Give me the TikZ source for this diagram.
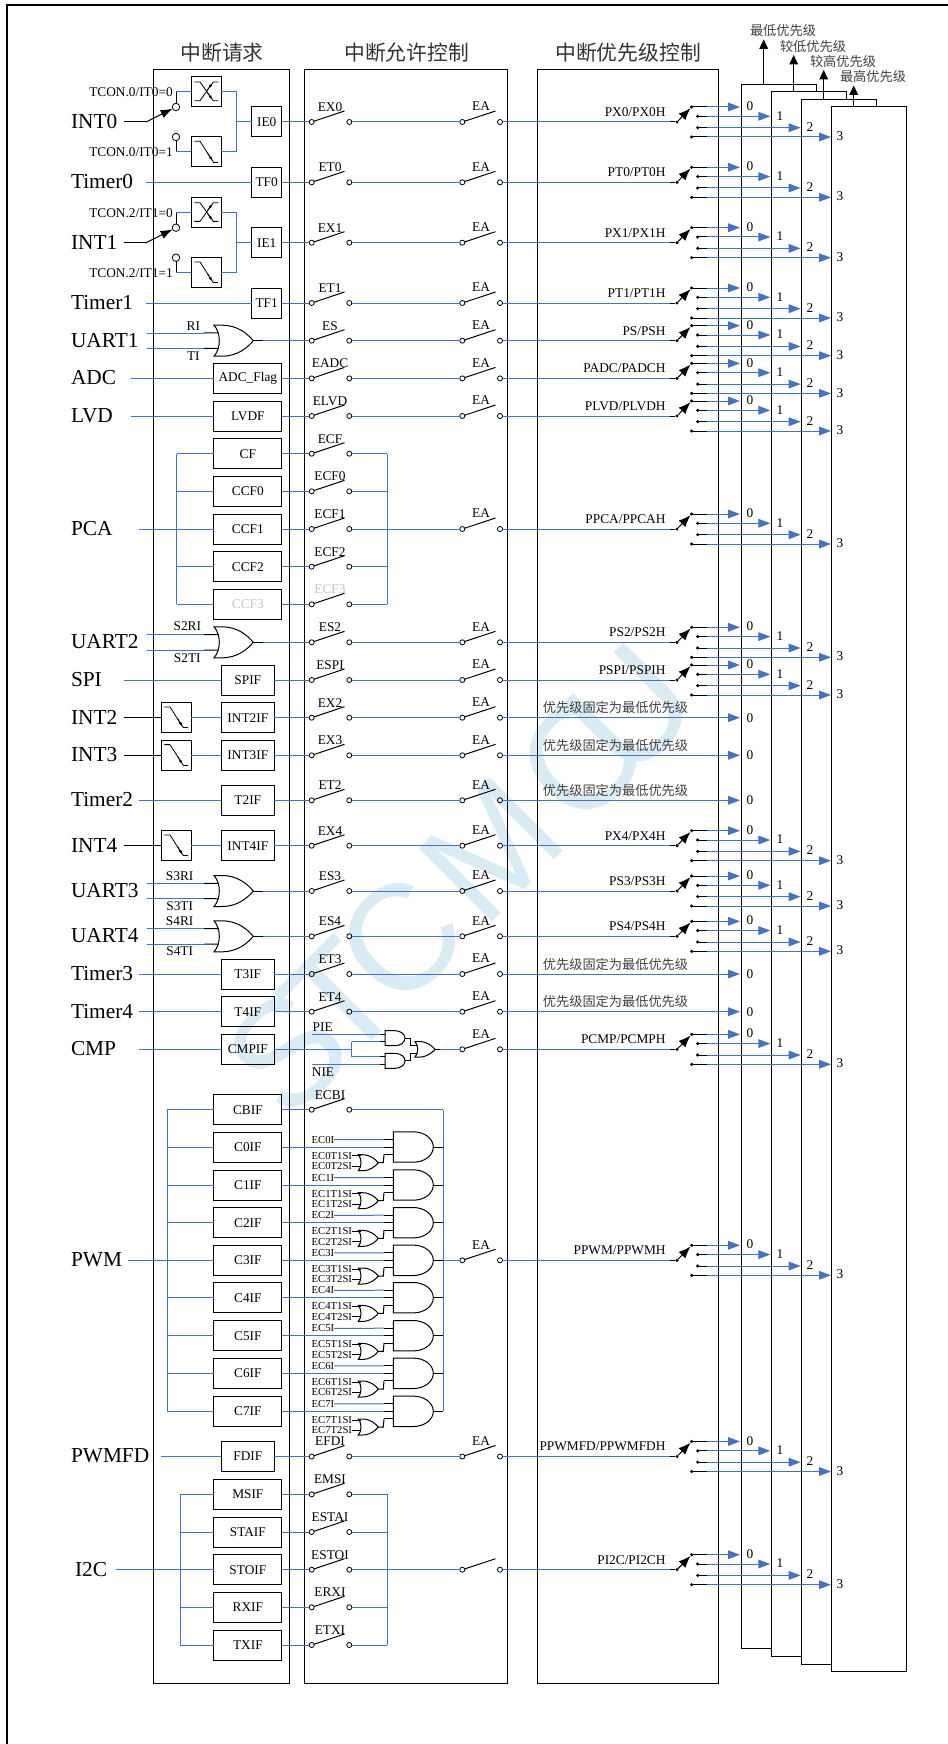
\documentclass[tikz,border=0pt]{standalone}
\usepackage{fontspec}
\setmainfont{Liberation Serif}
\newfontfamily\cjk{Noto Sans CJK SC}
\newfontfamily\wmfont{Liberation Sans}
\usetikzlibrary{arrows.meta}
\definecolor{wireblue}{HTML}{4472C4}
\definecolor{wmblue}{HTML}{D9ECF3}
\definecolor{fadegray}{HTML}{C4C4C4}
\tikzset{
  blk/.style={draw=black,line width=.75pt},
  wirel/.style={draw=wireblue,line width=.75pt},
  tiparrow/.style={-{Triangle[length=9pt,width=6.5pt,fill=wireblue]}},
  blkarrow/.style={-{Latex[length=9pt,width=7pt]}},
  lab/.style={font=\fontsize{10}{12}\selectfont,inner sep=0pt,outer sep=0pt},
  smalllab/.style={font=\fontsize{8}{10}\selectfont,inner sep=0pt,outer sep=0pt},
  biglab/.style={font=\fontsize{16}{18}\selectfont,inner sep=0pt,outer sep=0pt},
  titlelab/.style={font=\cjk\fontsize{15.6}{18}\selectfont,text=black!80,inner sep=0pt,outer sep=0pt},
  cnlab/.style={font=\cjk\fontsize{9.9}{12}\selectfont,text=black!75,inner sep=0pt,outer sep=0pt},
  fbox/.style={draw=black,line width=.75pt,font=\fontsize{10}{12}\selectfont,inner sep=0pt,outer sep=0pt,minimum height=22.5pt},
  bs/.style={fbox,minimum width=22.5pt},
  bm/.style={fbox,minimum width=39.75pt},
  bw/.style={fbox,minimum width=50.8pt},
  cir/.style={circle,draw=black,line width=.6pt,inner sep=0pt,outer sep=0pt,minimum size=3.8pt},
  cirb/.style={circle,draw=black,line width=.6pt,inner sep=0pt,outer sep=0pt,minimum size=5.6pt},
  dot/.style={circle,fill=black,inner sep=0pt,outer sep=0pt,minimum size=2.6pt},
  col/.style={draw=black,line width=.75pt,inner sep=0pt,outer sep=0pt,minimum height=1210.1pt},
  panel/.style={draw=black,fill=white,line width=.75pt,inner sep=0pt,outer sep=0pt,minimum width=56.55pt,minimum height=1173.4pt},
}
% first switch
\newcommand\SwA[4][black]{%
  \node[cir] (#2-a) at (311.7,#3) {};
  \node[cir] (#2-b) at (349.3,#3) {};
  \coordinate (#2-t) at (344.5,#3-11);
  \draw[blk] (#2-a) -- (#2-t);
  \node[lab,text=#1] (#2-l) at (330,#3-15) {#4};
}
% second switch
\newcommand\SwB[2]{%
  \node[cir] (#1-c) at (462.3,#2) {};
  \node[cir] (#1-d) at (500,#2) {};
  \coordinate (#1-u) at (495.5,#2-11);
  \draw[blk] (#1-c) -- (#1-u);
  \draw[wirel] (#1-b) -- (#1-c);
}
\newcommand\EaLab[2]{\node[lab] (#1-e) at (481,#2-15.5) {EA};}
% priority selector
\newcommand\Prio[3]{%
  \coordinate (#1-j) at (670,#2);
  \node[dot] (#1-i) at (677,#2) {};
  \draw[wirel] (#1-d) -- (#1-j);
  \draw[blk] (#1-j) -- (#1-i);
  \node[lab,anchor=east] (#1-p) at (665.5,#2-10) {#3};
  \foreach \k/\dy/\dx/\tip/\lx/\ly in {0/-15/691.7/740/750/-15.7,1/-5.7/697.7/770.3/780/-6.3,2/5.7/697.7/800.6/810/4.7,3/15/691.7/831/840/14.3}{
    \node[dot] (#1-o\k) at (\dx,#2+\dy) {};
    \coordinate (#1-m\k) at (707,#2+\dy);
    \coordinate (#1-x\k) at (\tip,#2+\dy);
    \draw[blk] (#1-o\k) -- (#1-m\k);
    \draw[wirel,tiparrow] (#1-m\k) -- (#1-x\k);
    \node[lab] (#1-n\k) at (\lx,#2+\ly) {\k};
  }
  \draw[blk,blkarrow] (#1-i) -- (#1-o0);
}
\newcommand\Chain[4]{%
  \SwA{#1}{#2}{#3}
  \draw[wirel] (#1-f) -- (#1-a);
  \SwB{#1}{#2}\EaLab{#1}{#2}
  \Prio{#1}{#2}{#4}
}
\newcommand\ChainF[3]{%
  \SwA{#1}{#2}{#3}
  \draw[wirel] (#1-f) -- (#1-a);
  \SwB{#1}{#2}\EaLab{#1}{#2}
  \coordinate (#1-x0) at (740,#2);
  \draw[wirel,tiparrow] (#1-d) -- (#1-x0);
  \node[lab] (#1-n0) at (750,#2) {0};
  \node[cnlab] (#1-p) at (615.5,#2-10) {优先级固定为最低优先级};
}
\newcommand\InLab[5][71]{%
  \node[biglab,anchor=west] (#2-n) at (#1,#3-.5) {#4};
  \coordinate (#2-s) at (#5,#3);
}
% gates
\newcommand\OrG[5]{% name,x,cy,w,h
  \draw[blk] (#2,#3-#5) -- (#2+.2*#4,#3-#5)
    .. controls (#2+.6*#4,#3-#5) and (#2+.85*#4,#3-.45*#5) .. (#2+#4,#3)
    .. controls (#2+.85*#4,#3+.45*#5) and (#2+.6*#4,#3+#5) .. (#2+.2*#4,#3+#5)
    -- (#2,#3+#5)
    .. controls (#2+.18*#4,#3+.5*#5) and (#2+.18*#4,#3-.5*#5) .. cycle;
  \coordinate (#1-i1) at (#2+.12*#4,#3-.5*#5);
  \coordinate (#1-i2) at (#2+.12*#4,#3+.5*#5);
  \coordinate (#1-o) at (#2+#4,#3);
}
\newcommand\AndG[5]{% name,x,cy,w,h
  \draw[blk] (#2,#3-#5) -- (#2+.5*#4,#3-#5)
    .. controls (#2+.78*#4,#3-#5) and (#2+#4,#3-.55*#5) .. (#2+#4,#3)
    .. controls (#2+#4,#3+.55*#5) and (#2+.78*#4,#3+#5) .. (#2+.5*#4,#3+#5)
    -- (#2,#3+#5) -- cycle;
  \coordinate (#1-o) at (#2+#4,#3);
}
% edge detector glyphs
\newcommand\FallBox[3]{%
  \node[fbox,minimum width=22.5pt] (#1) at (#2,#3) {};
  \draw[blk,line width=.6pt] (#2-12,#3-10.7) -- (#2-6.3,#3-10.7) -- (#2+7,#3+10);
  \draw[blk,line width=.6pt] (#2+7,#3+10) -- (#2+12,#3+10);
  \draw[blk,line width=.6pt,-{Latex[length=3pt,width=2.4pt]}] (#2+1,#3+.7) -- (#2+6,#3+8.5);
}
\newcommand\BothBox[3]{%
  \node[fbox,minimum width=22.5pt] (#1) at (#2,#3) {};
  \draw[blk,line width=.6pt] (#2-12,#3+8.7) -- (#2-6.3,#3+8.7) -- (#2+7,#3-10) -- (#2+12,#3-10);
  \draw[blk,line width=.6pt] (#2-12,#3-10) -- (#2-6.3,#3-10) -- (#2+7,#3+8.7) -- (#2+12,#3+8.7);
  \draw[blk,line width=.6pt,-{Latex[length=3pt,width=2.4pt]}] (#2+1,#3+.7) -- (#2+6,#3+7.3);
  \draw[blk,line width=.6pt,-{Latex[length=3pt,width=2.4pt]}] (#2+1,#3-2) -- (#2+6,#3-8.6);
}
\newcommand\IntBlock[6]{% name,y,label,flag,switch,prefix
  \InLab{#1}{#2}{#3}{124}
  \BothBox{#1-r}{206.3}{#2-30}
  \FallBox{#1-d2}{206.3}{#2+30}
  \node[bs] (#1-f) at (266.7,#2) {#4};
  \node[cirb] (#1-c1) at (176,#2-15) {};
  \node[cirb] (#1-c2) at (176,#2+15) {};
  \node[lab,anchor=west] (#1-l1) at (89.3,#2-30) {#6=0};
  \node[lab,anchor=west] (#1-l2) at (89.3,#2+30) {#6=1};
  \coordinate (#1-k) at (146,#2);
  \draw[blk] (#1-s) -- (#1-k);
  \draw[blk,-{Latex[length=9pt,width=6.5pt]}] (#1-k) -- (#1-c1);
  \coordinate (#1-q1) at (176,#2-30);
  \coordinate (#1-q2) at (176,#2+30);
  \draw[blk] (#1-c1) -- (#1-q1);
  \draw[blk] (#1-c2) -- (#1-q2);
  \draw[wirel] (#1-q1) -- (#1-r);
  \draw[wirel] (#1-q2) -- (#1-d2);
  \coordinate (#1-y) at (236.7,#2);
  \draw[wirel] (#1-r) -| (#1-y);
  \draw[wirel] (#1-d2) -| (#1-y);
  \draw[wirel] (#1-y) -- (#1-f);
}
\newcommand\Uart[8]{% name,y,label,ri,ti,labx,laby,prio-switch name text
  \InLab{#1}{#2}{#3}{146.5}
  \OrG{#1-g}{214}{#2}{39.3}{15.5}
  \coordinate (#1-s1) at (146.5,#2-7.7);
  \coordinate (#1-s2) at (146.5,#2+7.7);
  \coordinate (#1-m1) at (204,#2-7.7);
  \coordinate (#1-m2) at (204,#2+7.7);
  \draw[wirel] (#1-s1) -- (#1-m1);
  \draw[wirel] (#1-s2) -- (#1-m2);
  \draw[blk] (#1-m1) -- (#1-g-i1);
  \draw[blk] (#1-m2) -- (#1-g-i2);
  \node[lab] (#1-l1) at (#6,#2-#7) {#4};
  \node[lab] (#1-l2) at (#6,#2+#7) {#5};
  \coordinate (#1-f) at (263,#2);
  \draw[blk] (#1-g-o) -- (#1-f);
  \SwA{#1}{#2}{#8}
  \draw[wirel] (#1-f) -- (#1-a);
  \SwB{#1}{#2}\EaLab{#1}{#2}
}
\newcommand\PwmRow[3]{% name,y,index
  \node[bw] (#1-f) at (247.85,#2) {C#3IF};
  \draw[wirel] (#1-f) -- (#1-f -| pwml);
  \AndG{#1-g}{393.3}{#2}{40}{15.2}
  \coordinate (#1-i1) at (384,#2-7.5);
  \coordinate (#1-i2) at (384,#2);
  \coordinate (#1-i3) at (384,#2+7.5);
  \coordinate (#1-b1) at (393.3,#2-7.5);
  \coordinate (#1-b2) at (393.3,#2);
  \coordinate (#1-b3) at (393.3,#2+7.5);
  \draw[wirel] (#1-f) -- (#1-i2);
  \draw[blk] (#1-i1) -- (#1-b1);
  \draw[blk] (#1-i2) -- (#1-b2);
  \draw[blk] (#1-i3) -- (#1-b3);
  \node[smalllab,anchor=west] (#1-l1) at (311.7,#2-7.3) {EC#3I};
  \draw[wirel] (#1-l1) -- (#1-i1);
  \node[smalllab,anchor=west] (#1-l2) at (311.7,#2+8.7) {EC#3T1SI};
  \node[smalllab,anchor=west] (#1-l3) at (311.7,#2+19.2) {EC#3T2SI};
  \OrG{#1-h}{358.3}{#2+15.7}{20}{8}
  \draw[blk] (#1-l2) -- (#1-l2 -| #1-h-i1);
  \draw[blk] (#1-l3) -- (#1-l3 -| #1-h-i2);
  \coordinate (#1-v) at (383.3,#2+15.7);
  \draw[blk] (#1-h-o) -- (#1-v) -- (#1-i3);
  \coordinate (#1-r) at (443.3,#2);
  \draw[blk] (#1-g-o) -- (#1-r);
}
\begin{document}
\begin{tikzpicture}[x=.75pt,y=-.75pt]
\useasboundingbox (0,0) rectangle (948,1744);
\node[font=\wmfont\fontsize{112.5}{120}\selectfont,text=wmblue,rotate=45,inner sep=0pt] (wm) at (460,880) {S\kern-15.75pt T\kern-11.25pt C \kern-22.5pt M\kern9pt C\kern-30pt U};
\draw[line width=1.5pt] (7,1744) -- (7,5.2) -- (948,5.2);

\node[titlelab] (t1) at (222,53) {中断请求};
\node[titlelab] (t2) at (406.7,53) {中断允许控制};
\node[titlelab] (t3) at (628,53) {中断优先级控制};
\node[col,minimum width=101.6pt] (c1) at (221.7,876.25) {};
\node[col,minimum width=152.4pt] (c2) at (406.1,876.25) {};
\node[col,minimum width=135.75pt] (c3) at (628.2,876.25) {};

\node[panel] (p0) at (779,866.65) {};
\node[panel] (p1) at (809,874.15) {};
\node[panel] (p2) at (839,881.75) {};
\node[panel] (p3) at (869,889.15) {};
\node[cnlab] (q0) at (783,31) {最低优先级};
\node[cnlab] (q1) at (813,46) {较低优先级};
\node[cnlab] (q2) at (843,61) {较高优先级};
\node[cnlab] (q3) at (873,76) {最高优先级};
\coordinate (u0a) at (763.7,84.3); \coordinate (u0b) at (763.7,39.5);
\coordinate (u1a) at (793.7,92);   \coordinate (u1b) at (793.7,55);
\coordinate (u2a) at (823.7,99.5); \coordinate (u2b) at (823.7,70);
\coordinate (u3a) at (853.7,107);  \coordinate (u3b) at (853.7,85.5);
\foreach \i in {0,1,2,3}{\draw[blk,-{Triangle[length=7pt,width=6.5pt]}] (u\i a) -- (u\i b);}

% INT0 .. Timer1
\IntBlock{int0}{122}{INT0}{IE0}{EX0}{TCON.0/IT0}
\Chain{int0}{122}{EX0}{PX0/PX0H}
\InLab{tm0}{182.3}{Timer0}{146}
\node[bs] (tm0-f) at (266.7,182.3) {TF0};
\draw[wirel] (tm0-s) -- (tm0-f);
\Chain{tm0}{182.3}{ET0}{PT0/PT0H}
\IntBlock{int1}{242.7}{INT1}{IE1}{EX1}{TCON.2/IT1}
\Chain{int1}{242.7}{EX1}{PX1/PX1H}
\InLab{tm1}{303}{Timer1}{146}
\node[bs] (tm1-f) at (266.7,303) {TF1};
\draw[wirel] (tm1-s) -- (tm1-f);
\Chain{tm1}{303}{ET1}{PT1/PT1H}

% UART1, ADC, LVD
\Uart{ua1}{340.7}{UART1}{RI}{TI}{193.3}{15}{ES}
\Prio{ua1}{340.7}{PS/PSH}
\InLab{adc}{378.4}{ADC}{131.3}
\node[bw] (adc-f) at (247.85,378.4) {ADC\_Flag};
\draw[wirel] (adc-s) -- (adc-f);
\Chain{adc}{378.4}{EADC}{PADC/PADCH}
\InLab{lvd}{416}{LVD}{131.3}
\node[bw] (lvd-f) at (247.85,416) {LVDF};
\draw[wirel] (lvd-s) -- (lvd-f);
\Chain{lvd}{416}{ELVD}{PLVD/PLVDH}

% PCA
\coordinate (pcal) at (176.7,529);
\coordinate (pcar) at (387.3,529);
\InLab{pca}{529}{PCA}{139}
\node[bw] (cf-f) at (247.85,453.7) {CF};
\node[bw] (cc0-f) at (247.85,491.3) {CCF0};
\node[bw] (cc1-f) at (247.85,529) {CCF1};
\node[bw] (cc2-f) at (247.85,566.7) {CCF2};
\node[bw,text=fadegray] (cc3-f) at (247.85,604.3) {CCF3};
\SwA{cf}{453.7}{ECF}
\SwA{cc0}{491.3}{ECF0}
\SwA{cc1}{529}{ECF1}
\SwA{cc2}{566.7}{ECF2}
\SwA[fadegray]{cc3}{604.3}{ECF3}
\foreach \n in {cf,cc0,cc1,cc2,cc3}{
  \draw[wirel] (\n-f) -- (\n-f -| pcal);
  \draw[wirel] (\n-f) -- (\n-a);
  \draw[wirel] (\n-b) -- (\n-b -| pcar);
}
\draw[wirel] (cf-f -| pcal) -- (cc3-f -| pcal);
\draw[wirel] (cf-b -| pcar) -- (cc3-b -| pcar);
\draw[wirel] (pca-s) -- (cc1-f);
\SwB{cc1}{529}\EaLab{cc1}{529}
\Prio{cc1}{529}{PPCA/PPCAH}

% UART2, SPI
\Uart{ua2}{642.3}{UART2}{S2RI}{S2TI}{187.3}{15.7}{ES2}
\Prio{ua2}{642.3}{PS2/PS2H}
\InLab{spi}{680}{SPI}{124}
\node[bm] (spi-f) at (247.8,680) {SPIF};
\draw[wirel] (spi-s) -- (spi-f);
\Chain{spi}{680}{ESPI}{PSPI/PSPIH}

% INT2, INT3, Timer2, INT4
\InLab{int2}{717.7}{INT2}{124}
\FallBox{int2-e}{176.3}{717.7}
\node[bm] (int2-f) at (247.8,717.7) {INT2IF};
\draw[blk] (int2-s) -- (int2-e);
\draw[wirel] (int2-e) -- (int2-f);
\ChainF{int2}{717.7}{EX2}
\InLab{int3}{755.3}{INT3}{124}
\FallBox{int3-e}{176.3}{755.3}
\node[bm] (int3-f) at (247.8,755.3) {INT3IF};
\draw[blk] (int3-s) -- (int3-e);
\draw[wirel] (int3-e) -- (int3-f);
\ChainF{int3}{755.3}{EX3}
\InLab{tm2}{800.3}{Timer2}{139}
\node[bm] (tm2-f) at (247.8,800.3) {T2IF};
\draw[wirel] (tm2-s) -- (tm2-f);
\ChainF{tm2}{800.3}{ET2}
\InLab{int4}{845.7}{INT4}{124}
\FallBox{int4-e}{176.3}{845.7}
\node[bm] (int4-f) at (247.8,845.7) {INT4IF};
\draw[blk] (int4-s) -- (int4-e);
\draw[wirel] (int4-e) -- (int4-f);
\Chain{int4}{845.7}{EX4}{PX4/PX4H}

% UART3, UART4, Timer3, Timer4
\Uart{ua3}{891}{UART3}{S3RI}{S3TI}{179.7}{15}{ES3}
\Prio{ua3}{891}{PS3/PS3H}
\Uart{ua4}{936.3}{UART4}{S4RI}{S4TI}{179.7}{15}{ES4}
\Prio{ua4}{936.3}{PS4/PS4H}
\InLab{tm3}{974}{Timer3}{139}
\node[bm] (tm3-f) at (247.8,974) {T3IF};
\draw[wirel] (tm3-s) -- (tm3-f);
\ChainF{tm3}{974}{ET3}
\InLab{tm4}{1011.7}{Timer4}{139}
\node[bm] (tm4-f) at (247.8,1011.7) {T4IF};
\draw[wirel] (tm4-s) -- (tm4-f);
\ChainF{tm4}{1011.7}{ET4}

% CMP
\InLab{cmp}{1049.3}{CMP}{139}
\node[bm] (cmp-f) at (247.8,1049.3) {CMPIF};
\draw[wirel] (cmp-s) -- (cmp-f);
\AndG{cmp-g1}{385}{1038.2}{20}{7.5}
\AndG{cmp-g2}{385}{1060.8}{20}{7.5}
\OrG{cmp-h}{415}{1049.3}{20}{7.8}
\node[lab] (cmp-pie) at (322.7,1026.7) {PIE};
\node[lab] (cmp-nie) at (323,1071.7) {NIE};
\coordinate (cmp-j) at (351.7,1049.3);
\coordinate (cmp-j1) at (351.7,1041.7);
\coordinate (cmp-j2) at (351.7,1056.7);
\coordinate (cmp-a1) at (380,1034.3); \coordinate (cmp-b1) at (385,1034.3);
\coordinate (cmp-a2) at (380,1041.7); \coordinate (cmp-b2) at (385,1041.7);
\coordinate (cmp-a3) at (380,1056.7); \coordinate (cmp-b3) at (385,1056.7);
\coordinate (cmp-a4) at (380,1064.3); \coordinate (cmp-b4) at (385,1064.3);
\coordinate (cmp-p0) at (312.3,1034.3);
\coordinate (cmp-n0) at (312.3,1064.3);
\draw[wirel] (cmp-f) -- (cmp-j);
\draw[wirel] (cmp-j1) -- (cmp-j2);
\draw[wirel] (cmp-j1) -- (cmp-a2);
\draw[wirel] (cmp-j2) -- (cmp-a3);
\draw[wirel] (cmp-p0) -- (cmp-a1);
\draw[wirel] (cmp-n0) -- (cmp-a4);
\draw[blk] (cmp-a1) -- (cmp-b1);
\draw[blk] (cmp-a2) -- (cmp-b2);
\draw[blk] (cmp-a3) -- (cmp-b3);
\draw[blk] (cmp-a4) -- (cmp-b4);
\coordinate (cmp-k1) at (410,1038.2);
\coordinate (cmp-k2) at (410,1060.8);
\draw[blk] (cmp-g1-o) -- (cmp-k1) |- (cmp-h-i1);
\draw[blk] (cmp-g2-o) -- (cmp-k2) |- (cmp-h-i2);
\coordinate (cmp-y) at (440,1049.3);
\draw[blk] (cmp-h-o) -- (cmp-y);
\node[cir] (cmp-c) at (462.3,1049.3) {};
\node[cir] (cmp-d) at (500,1049.3) {};
\coordinate (cmp-u) at (495.5,1038.3);
\draw[blk] (cmp-c) -- (cmp-u);
\draw[wirel] (cmp-y) -- (cmp-c);
\EaLab{cmp}{1049.3}
\Prio{cmp}{1049.3}{PCMP/PCMPH}

% PWM
\coordinate (pwml) at (167,1260.3);
\coordinate (pwmr) at (443.3,1260.3);
\InLab{pwm}{1260.3}{PWM}{128.3}
\node[bw] (cb-f) at (247.85,1109.7) {CBIF};
\draw[wirel] (cb-f) -- (cb-f -| pwml);
\SwA{cb}{1109.7}{ECBI}
\draw[wirel] (cb-f) -- (cb-a);
\draw[wirel] (cb-b) -- (cb-b -| pwmr);
\PwmRow{c0}{1147}{0}
\PwmRow{c1}{1185}{1}
\PwmRow{c2}{1222.7}{2}
\PwmRow{c3}{1260.3}{3}
\PwmRow{c4}{1297.7}{4}
\PwmRow{c5}{1335.7}{5}
\PwmRow{c6}{1373.3}{6}
\PwmRow{c7}{1411.3}{7}
\draw[wirel] (cb-f -| pwml) -- (c7-f -| pwml);
\draw[wirel] (cb-b -| pwmr) -- (c7-r);
\draw[wirel] (pwm-s) -- (c3-f);
\node[cir] (pw-c) at (462.3,1260.3) {};
\node[cir] (pw-d) at (500,1260.3) {};
\coordinate (pw-u) at (495.5,1249.3);
\draw[blk] (pw-c) -- (pw-u);
\draw[wirel] (c3-r) -- (pw-c);
\EaLab{pw}{1260.3}
\Prio{pw}{1260.3}{PPWM/PPWMH}

% PWMFD
\InLab{fd}{1456.5}{PWMFD}{161}
\node[bm] (fd-f) at (247.8,1456.5) {FDIF};
\draw[wirel] (fd-s) -- (fd-f);
\Chain{fd}{1456.5}{EFDI}{PPWMFD/PPWMFDH}

% I2C
\coordinate (i2cl) at (180.3,1569.7);
\coordinate (i2cr) at (387.3,1569.7);
\InLab[75]{i2c}{1569.7}{I2C}{116}
\node[bw] (ms-f) at (247.85,1494.3) {MSIF};
\node[bw] (sa-f) at (247.85,1532) {STAIF};
\node[bw] (so-f) at (247.85,1569.7) {STOIF};
\node[bw] (rx-f) at (247.85,1607.3) {RXIF};
\node[bw] (tx-f) at (247.85,1645) {TXIF};
\SwA{ms}{1494.3}{EMSI}
\SwA{sa}{1532}{ESTAI}
\SwA{so}{1569.7}{ESTOI}
\SwA{rx}{1607.3}{ERXI}
\SwA{tx}{1645}{ETXI}
\foreach \n in {ms,sa,so,rx,tx}{
  \draw[wirel] (\n-f) -- (\n-f -| i2cl);
  \draw[wirel] (\n-f) -- (\n-a);
  \draw[wirel] (\n-b) -- (\n-b -| i2cr);
}
\draw[wirel] (ms-f -| i2cl) -- (tx-f -| i2cl);
\draw[wirel] (ms-b -| i2cr) -- (tx-b -| i2cr);
\draw[wirel] (i2c-s) -- (so-f);
\SwB{so}{1569.7}
\Prio{so}{1569.7}{PI2C/PI2CH}
\end{tikzpicture}
\end{document}
